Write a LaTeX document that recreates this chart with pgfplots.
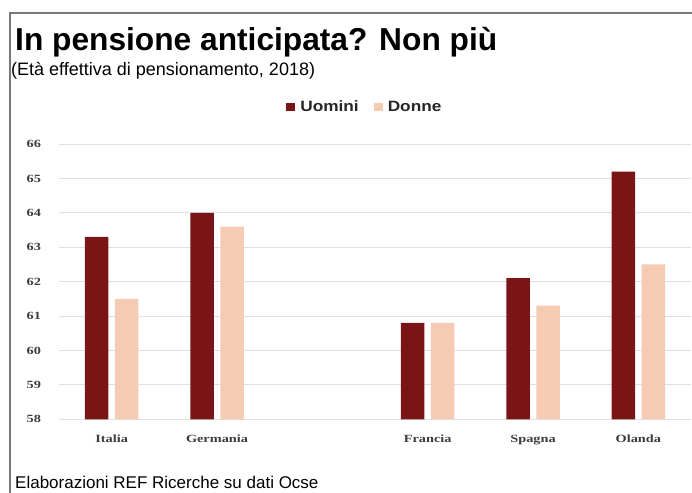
\documentclass[border=0pt]{standalone}
\usepackage{fontspec}
\setmainfont{Liberation Sans}
\newfontfamily\tickfont{Liberation Serif}[FakeStretch=1.3]
\newfontfamily\legfont{Liberation Sans}[FakeStretch=1.15]
\usepackage{pgfplots}
\pgfplotsset{compat=1.18}
\definecolor{uomini}{RGB}{122,21,23}
\definecolor{donne}{RGB}{245,203,180}
\definecolor{tickgray}{RGB}{60,60,60}
\definecolor{framegray}{RGB}{120,120,120}
\begin{document}
\begin{tikzpicture}
\useasboundingbox (0pt,0pt) rectangle (692pt,-492pt);
\draw[framegray, line width=1.2pt] (10pt,-500pt) -- (10pt,-13pt) -- (700pt,-13pt);
\node[anchor=base west, inner sep=0pt, font=\bfseries\fontsize{31.7}{36}\selectfont] at (15pt,-51pt) {In pensione anticipata? Non più};
\node[anchor=base west, inner sep=0pt, font=\fontsize{18}{20}\selectfont] at (11pt,-76pt) {(Età effettiva di pensionamento, 2018)};
\node[anchor=base west, inner sep=0pt, font=\fontsize{17}{20}\selectfont] at (15pt,-488.5pt) {Elaborazioni REF Ricerche su dati Ocse};
\begin{axis}[
    scale only axis, width=632pt, height=275.3pt,
    at={(59pt,-419.3pt)}, anchor=south west,
    ybar=6.5pt, bar width=23.5pt,
    xmin=-0.5, xmax=5.5, ymin=58, ymax=66,
    xtick={0,1,3,4,5},
    xticklabels={Italia,Germania,Francia,Spagna,Olanda},
    ytick={58,...,66},
    ymajorgrids, grid style={draw=black!12, line width=0.8pt},
    axis line style={draw=none}, major tick length=0pt,
    /pgf/number format/assume math mode=true,
    ticklabel style={font=\tickfont\bfseries\fontsize{11}{13}\selectfont, text=tickgray},
    yticklabel style={xshift=-14.5pt},
    xticklabel style={yshift=-12.5pt},
    legend columns=2,
    legend image code/.code={\fill[#1,/tikz/.cd,draw=none] (0pt,-4pt) rectangle (9pt,4pt);},
    legend style={at={(0.484,1.134)}, anchor=center, draw=none, fill=none,
        font=\legfont\bfseries\fontsize{15}{18}\selectfont, text=black!85,
        /tikz/every odd column/.append style={column sep=3pt},
        /tikz/every even column/.append style={column sep=13pt}},
]
\addplot[fill=uomini, draw=none] coordinates {(0,63.3) (1,64.0) (3,60.8) (4,62.1) (5,65.2)};
\addplot[fill=donne, draw=none] coordinates {(0,61.5) (1,63.6) (3,60.8) (4,61.3) (5,62.5)};
\legend{Uomini,Donne}
\end{axis}
\end{tikzpicture}
\end{document}
